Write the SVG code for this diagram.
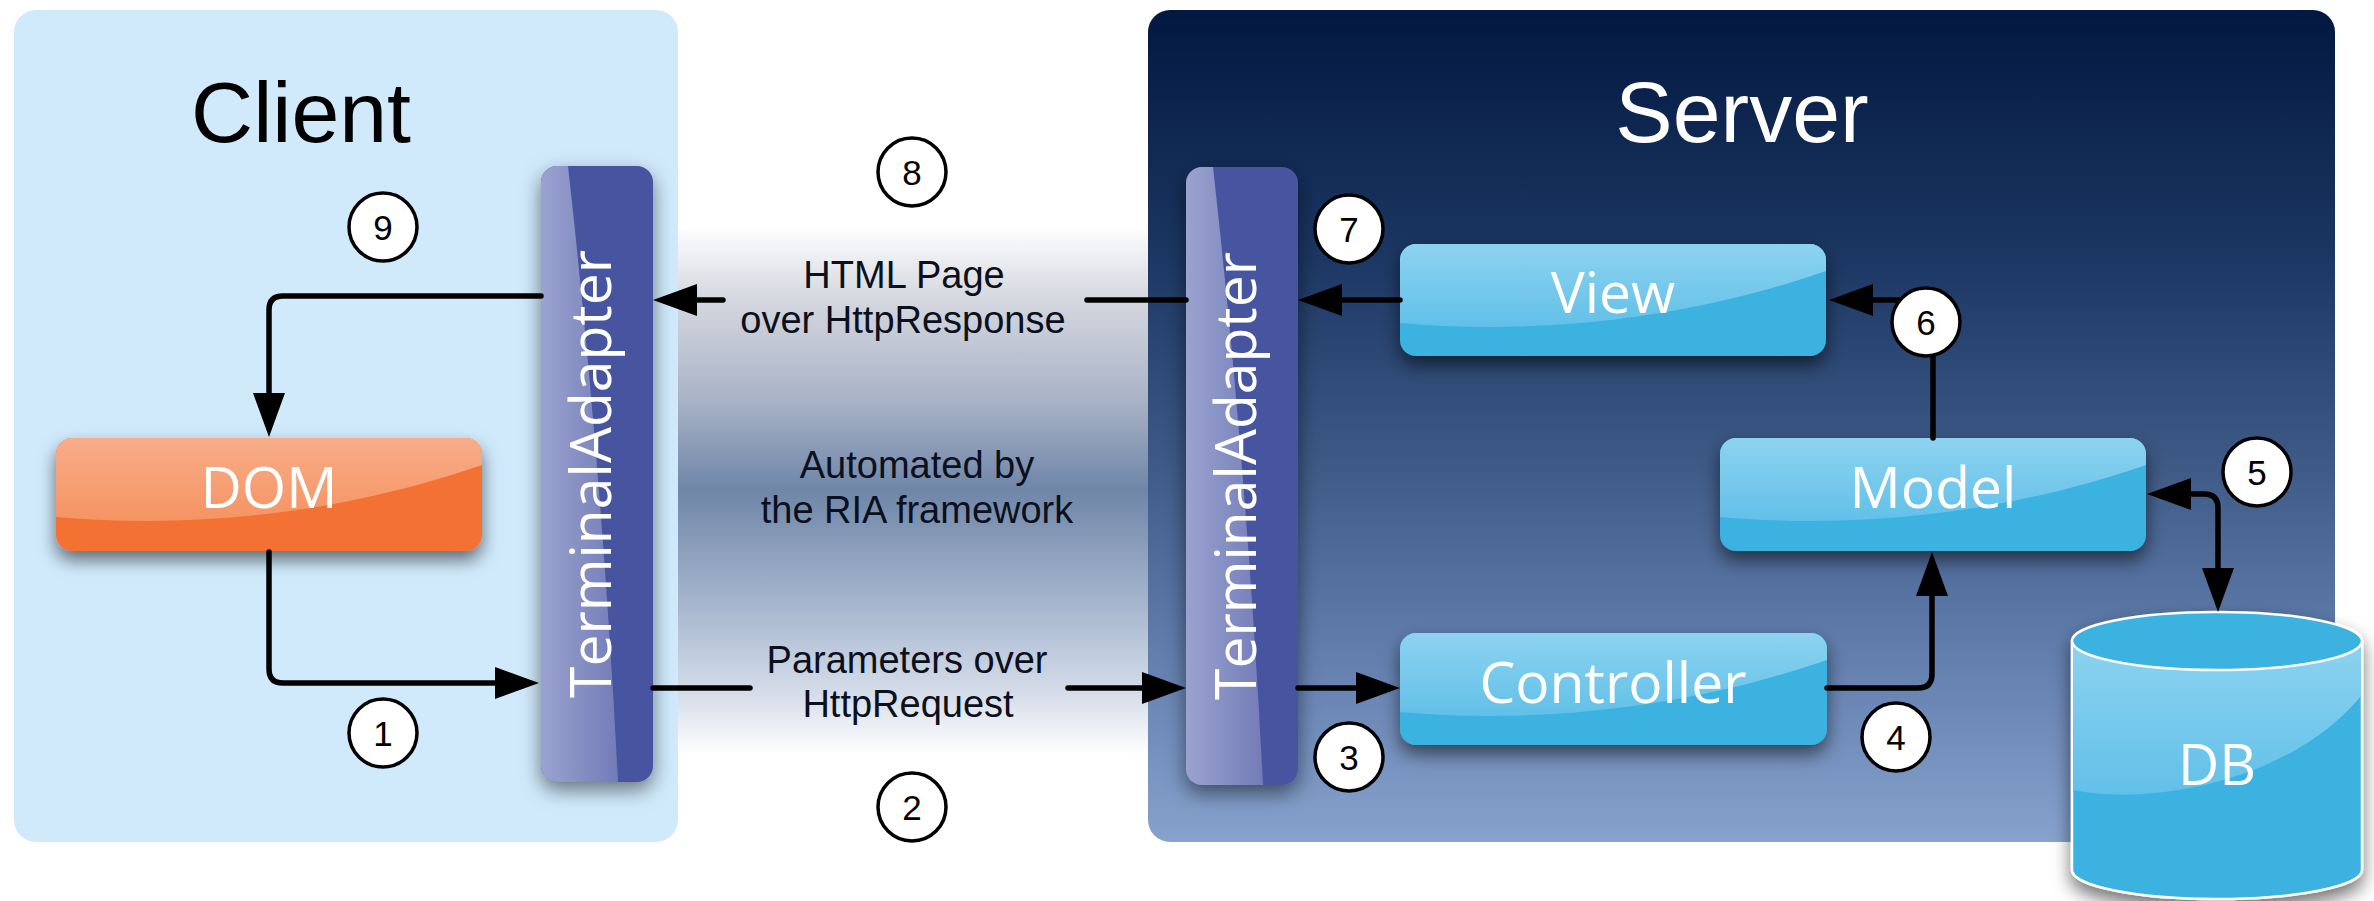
<svg xmlns="http://www.w3.org/2000/svg" width="2374" height="901" viewBox="0 0 2374 901">
<style>
.title{font-family:"Liberation Sans",Arial,Helvetica,sans-serif;font-size:86px;text-anchor:middle}
.lbl{font-family:"Open Sans","DejaVu Sans",sans-serif;font-weight:400;font-size:57px;fill:#fff;text-anchor:middle}
.band{font-family:"Liberation Sans",Arial,Helvetica,sans-serif;font-size:38px;fill:#0b101c;text-anchor:middle}
.num{font-family:"Liberation Sans",Arial,Helvetica,sans-serif;font-size:35px;fill:#000;text-anchor:middle}
.step{fill:#fff;stroke:#000;stroke-width:3.5}
.con{fill:none;stroke:#000;stroke-width:5.5;stroke-linecap:round;stroke-linejoin:round}
.arr{marker-end:url(#ah)}
.blue{fill:#3bb2e0}
.gb{fill:url(#gGlossBlue)}
.ta{fill:#4754a1}
.tag{fill:url(#gGlossTA)}
</style>
<defs>
<linearGradient id="gServer" x1="0" y1="0" x2="0" y2="1">
<stop offset="0" stop-color="#021840"/>
<stop offset="0.3" stop-color="#1c3763"/>
<stop offset="0.55" stop-color="#3e5a86"/>
<stop offset="0.8" stop-color="#6682b1"/>
<stop offset="1" stop-color="#87a2cc"/>
</linearGradient>
<linearGradient id="gBand" gradientUnits="userSpaceOnUse" x1="0" y1="0" x2="0" y2="901">
<stop offset="0.25" stop-color="#ffffff"/>
<stop offset="0.333" stop-color="#d4d7df"/>
<stop offset="0.444" stop-color="#a9b3c6"/>
<stop offset="0.544" stop-color="#6f86a8"/>
<stop offset="0.666" stop-color="#a4b4cd"/>
<stop offset="0.766" stop-color="#d3dbe8"/>
<stop offset="0.838" stop-color="#ffffff"/>
</linearGradient>
<linearGradient id="gGlossBlue" x1="0" y1="0" x2="0" y2="1">
<stop offset="0" stop-color="#8dd3f0"/>
<stop offset="1" stop-color="#62c0e8"/>
</linearGradient>
<linearGradient id="gGlossOrange" x1="0" y1="0" x2="0" y2="1">
<stop offset="0" stop-color="#f8ad8a"/>
<stop offset="1" stop-color="#f59462"/>
</linearGradient>
<linearGradient id="gGlossTA" x1="0" y1="0" x2="1" y2="0">
<stop offset="0" stop-color="#9aa3cf"/>
<stop offset="1" stop-color="#737cb8"/>
</linearGradient>
<filter id="sh" x="-20%" y="-30%" width="140%" height="180%">
<feDropShadow dx="0" dy="9" stdDeviation="9" flood-color="#000" flood-opacity="0.55"/>
</filter>
<filter id="shTA" x="-40%" y="-10%" width="180%" height="125%">
<feDropShadow dx="0" dy="8" stdDeviation="10" flood-color="#000" flood-opacity="0.5"/>
</filter>
<clipPath id="cDOM"><rect x="56" y="438" width="426" height="113" rx="16"/></clipPath>
<clipPath id="cView"><rect x="1400" y="244" width="426" height="112" rx="16"/></clipPath>
<clipPath id="cModel"><rect x="1720" y="438" width="426" height="113" rx="16"/></clipPath>
<clipPath id="cCtrl"><rect x="1400" y="633" width="427" height="112" rx="16"/></clipPath>
<clipPath id="cTA1"><rect x="541" y="166" width="112" height="616" rx="16"/></clipPath>
<clipPath id="cTA2"><rect x="1186" y="167" width="112" height="618" rx="16"/></clipPath>
<marker id="ah" markerUnits="userSpaceOnUse" markerWidth="44" markerHeight="32" refX="0" refY="16" orient="auto-start-reverse" viewBox="0 0 44 32">
<path d="M0,0 L44,16 L0,32 Z" fill="#000"/>
</marker>
</defs>

<rect x="0" y="0" width="2374" height="901" fill="#fff"/>

<g id="band">
<rect x="670" y="0" width="490" height="901" fill="url(#gBand)"/>
</g>

<g id="client-panel">
<rect x="14" y="10" width="664" height="832" rx="22" fill="#d0eafc"/>
<text class="title" x="301" y="142" fill="#000">Client</text>
</g>

<g id="server-panel">
<rect x="1148" y="10" width="1187" height="832" rx="22" fill="url(#gServer)"/>
<text class="title" x="1742" y="142" fill="#fff">Server</text>
</g>

<g id="node-dom" filter="url(#sh)">
<rect x="56" y="438" width="426" height="113" rx="16" fill="#f37130"/>
<path clip-path="url(#cDOM)" d="M56,438 H482 V465 C352,510 206,530 56,517 Z" fill="url(#gGlossOrange)"/>
<text class="lbl" x="269" y="508">DOM</text>
</g>

<g id="node-ta-client" filter="url(#shTA)">
<rect class="ta" x="541" y="166" width="112" height="616" rx="16"/>
<path clip-path="url(#cTA1)" class="tag" d="M541,166 H568 Q602,470 618,782 H541 Z"/>
<text class="lbl" transform="translate(611,474) rotate(-90)">TerminalAdapter</text>
</g>

<g id="node-ta-server" filter="url(#shTA)">
<rect class="ta" x="1186" y="167" width="112" height="618" rx="16"/>
<path clip-path="url(#cTA2)" class="tag" d="M1186,167 H1213 Q1247,471 1263,785 H1186 Z"/>
<text class="lbl" transform="translate(1256,476) rotate(-90)">TerminalAdapter</text>
</g>

<g id="node-view" filter="url(#sh)">
<rect class="blue" x="1400" y="244" width="426" height="112" rx="16"/>
<path clip-path="url(#cView)" class="gb" d="M1400,244 H1826 V271 C1696,316 1550,336 1400,323 Z"/>
<text class="lbl" x="1613" y="313">View</text>
</g>

<g id="node-model" filter="url(#sh)">
<rect class="blue" x="1720" y="438" width="426" height="113" rx="16"/>
<path clip-path="url(#cModel)" class="gb" d="M1720,438 H2146 V465 C2016,510 1870,530 1720,517 Z"/>
<text class="lbl" x="1933" y="508">Model</text>
</g>

<g id="node-controller" filter="url(#sh)">
<rect class="blue" x="1400" y="633" width="427" height="112" rx="16"/>
<path clip-path="url(#cCtrl)" class="gb" d="M1400,633 H1827 V660 C1697,705 1550,725 1400,712 Z"/>
<text class="lbl" x="1613" y="703">Controller</text>
</g>

<g id="node-db" filter="url(#sh)">
<path d="M2072,641 V870 A145,29 0 0 0 2362,870 V641 Z" fill="#3bb2e0" stroke="#fff" stroke-width="2.5"/>
<path d="M2073,641 V790 C2150,806 2290,782 2361,696 V641 Z" fill="url(#gGlossBlue)"/>
<ellipse cx="2217" cy="641" rx="145" ry="29" fill="#3bb2e0" stroke="#fff" stroke-width="2.5"/>
<text class="lbl" x="2217" y="785">DB</text>
</g>

<g id="connectors">
<path class="con arr" d="M541,296 H283 Q269,296 269,310 V393"/>
<path class="con arr" d="M269,552 V669 Q269,683 283,683 H495"/>
<path class="con" d="M653,688 H750"/>
<path class="con arr" d="M1068,688 H1142"/>
<path class="con" d="M1186,300 H1087"/>
<path class="con arr" d="M723,300 H697"/>
<path class="con arr" d="M1298,688 H1356"/>
<path class="con arr" d="M1400,300 H1342"/>
<path class="con arr" d="M1827,688 H1918 Q1932,688 1932,674 V596"/>
<path class="con arr" d="M1933,438 V300 H1873"/>
<path class="con arr" style="marker-start:url(#ah)" d="M2191,494 H2204 Q2218,494 2218,508 V568"/>
</g>

<g id="steps">
<g id="step-1"><circle class="step" cx="383" cy="733" r="34"/><text class="num" x="383" y="746">1</text></g>
<g id="step-2"><circle class="step" cx="912" cy="807" r="34"/><text class="num" x="912" y="820">2</text></g>
<g id="step-3"><circle class="step" cx="1349" cy="757" r="34"/><text class="num" x="1349" y="770">3</text></g>
<g id="step-4"><circle class="step" cx="1896" cy="737" r="34"/><text class="num" x="1896" y="750">4</text></g>
<g id="step-5"><circle class="step" cx="2257" cy="472" r="34"/><text class="num" x="2257" y="485">5</text></g>
<g id="step-6"><circle class="step" cx="1926" cy="322" r="34"/><text class="num" x="1926" y="335">6</text></g>
<g id="step-7"><circle class="step" cx="1349" cy="229" r="34"/><text class="num" x="1349" y="242">7</text></g>
<g id="step-8"><circle class="step" cx="912" cy="172" r="34"/><text class="num" x="912" y="185">8</text></g>
<g id="step-9"><circle class="step" cx="383" cy="227" r="34"/><text class="num" x="383" y="240">9</text></g>
</g>

<g id="band-labels">
<text class="band" x="904" y="288">HTML Page</text>
<text class="band" x="903" y="333">over HttpResponse</text>
<text class="band" x="917" y="478">Automated by</text>
<text class="band" x="917" y="523">the RIA framework</text>
<text class="band" x="907" y="673">Parameters over</text>
<text class="band" x="908" y="717">HttpRequest</text>
</g>
</svg>
